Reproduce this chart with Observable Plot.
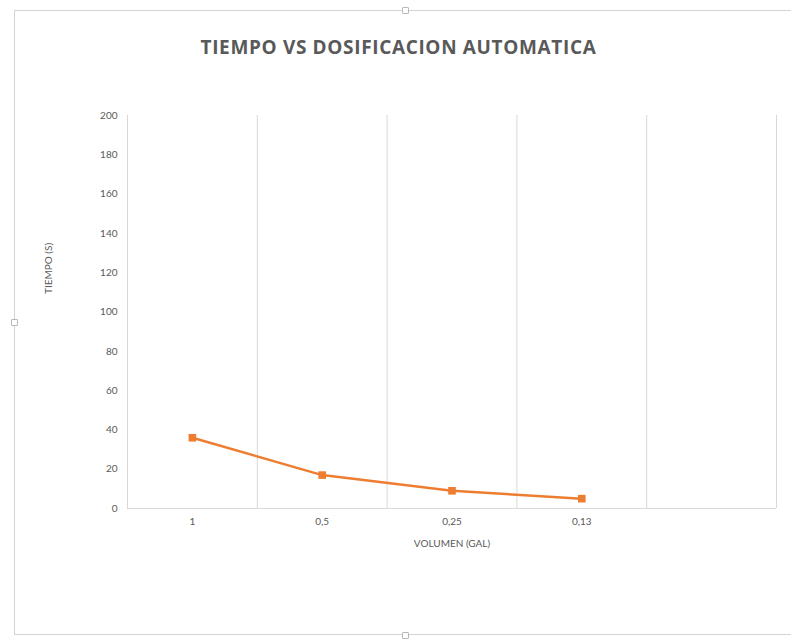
<!DOCTYPE html>
<html><head><meta charset="utf-8">
<script src="https://cdn.jsdelivr.net/npm/d3@7"></script>
<script src="https://cdn.jsdelivr.net/npm/@observablehq/plot@0.6"></script>
<style>
html,body{margin:0;padding:0;background:#fff;}
body{width:791px;height:640px;overflow:hidden;position:relative;font-family:"Open Sans",sans-serif;}
#frame{position:absolute;left:14px;top:10px;width:800px;height:625px;border:1px solid #d4d4d4;box-sizing:border-box;}
.handle{position:absolute;width:7px;height:7px;border:1px solid #b8b8b8;background:#fff;border-radius:1px;box-sizing:border-box;}
#title{position:absolute;left:0;top:33px;width:797px;text-align:center;font-size:19px;font-weight:700;letter-spacing:0.65px;color:#595959;line-height:28px;}
#chart{position:absolute;left:0;top:80px;}
</style>
</head><body>
<div id="frame"></div>
<div class="handle" style="left:402px;top:7px"></div>
<div class="handle" style="left:11px;top:319px"></div>
<div class="handle" style="left:402px;top:632px"></div>
<div id="title">TIEMPO VS DOSIFICACION AUTOMATICA</div>
<div id="chart"></div>
<script>
const categories = ["1", "0,5", "0,25", "0,13"];
const tiempo = [36, 17, 9, 5];
const slots = 5; // category slots on the axis (the last one is empty)
const yTicks = [0, 20, 40, 60, 80, 100, 120, 140, 160, 180, 200];

const data = categories.map((c, i) => ({pos: i + 0.5, label: c, t: tiempo[i]}));
const boundaries = d3.range(1, slots + 1);

const chart = Plot.plot({
  width: 791, height: 560,
  marginTop: 35, marginBottom: 132, marginLeft: 127, marginRight: 15,
  x: {domain: [0, slots]},
  y: {domain: [0, 200]},
  style: {fontFamily: "Lato, 'Open Sans', sans-serif", fontSize: "10px", color: "#595959", background: "transparent"},
  marks: [
    Plot.ruleX(boundaries, {stroke: "#d9d9d9", strokeWidth: 1}),
    Plot.ruleX([0], {stroke: "#d9d9d9", strokeWidth: 1}),
    Plot.ruleY([0], {stroke: "#d9d9d9", strokeWidth: 1}),
    Plot.axisY({ticks: yTicks, tickSize: 0, tickPadding: 10, label: null}),
    Plot.text(["TIEMPO (S)"], {frameAnchor: "left", dx: -79, dy: -18, rotate: -90, fill: "#595959", fontSize: 10}),
    Plot.axisX({ticks: data.map(d => d.pos), tickFormat: v => categories[Math.floor(v)], tickSize: 0, tickPadding: 9, label: "VOLUMEN (GAL)", labelAnchor: "center", labelOffset: 38, labelArrow: "none"}),
    Plot.line(data, {x: "pos", y: "t", stroke: "#ED7D31", strokeWidth: 2.5}),
    Plot.dot(data, {x: "pos", y: "t", symbol: "square", fill: "#ED7D31", r: 4.3})
  ]
});
document.getElementById("chart").appendChild(chart);
</script>
</body></html>
